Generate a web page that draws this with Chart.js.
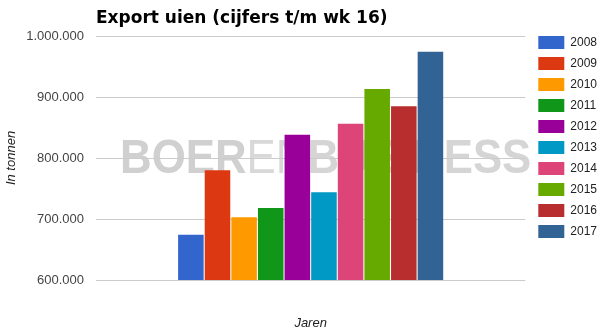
<!DOCTYPE html>
<html>
<head>
<meta charset="utf-8">
<script src="https://cdn.jsdelivr.net/npm/chart.js@4.4.1/dist/chart.umd.min.js"></script>
<style>
  html, body { margin: 0; padding: 0; background: #fff; }
  #wrap { width: 610px; height: 334px; }
</style>
</head>
<body>
<div id="wrap"><canvas id="exportChart" width="610" height="334"></canvas></div>
<script>
// Export uien per jaar, cijfers t/m week 16
const years = ["2008", "2009", "2010", "2011", "2012", "2013", "2014", "2015", "2016", "2017"];
const exportTonnen = [674000, 780000, 703000, 718000, 838000, 744000, 856000, 913000, 885000, 974000];
const yearColors = ["#3366cc", "#dc3912", "#ff9900", "#109618", "#990099", "#0099c6", "#dd4477", "#66aa00", "#b82e2e", "#316395"];
const yTicks = [600000, 700000, 800000, 900000, 1000000];

function formatNL(v) {
  return String(v).replace(/\B(?=(\d{3})+(?!\d))/g, ".");
}

// grijze watermerk-tekst achter het raster
const watermark = {
  id: "watermark",
  beforeDraw(chart) {
    const { ctx, chartArea } = chart;
    const parts = [
      { text: "BOER", font: "bold 49px 'Liberation Sans'", color: "#d0d0d0" },
      { text: "EN", font: "normal 49px 'Liberation Sans'", color: "#d8d8d8" },
      { text: "BUSINESS", font: "bold 49px 'Liberation Sans'", color: "#d5d5d5" },
    ];
    ctx.save();
    let total = 0;
    parts.forEach((p) => {
      ctx.font = p.font;
      p.w = ctx.measureText(p.text).width;
      total += p.w;
    });
    const left = chartArea.left + 24;
    const targetW = chartArea.right + 6 - left;
    const sx = targetW / total;
    ctx.translate(left, chartArea.top + 137);
    ctx.scale(sx, 1);
    let x = 0;
    parts.forEach((p) => {
      ctx.font = p.font;
      ctx.fillStyle = p.color;
      ctx.textBaseline = "alphabetic";
      ctx.fillText(p.text, x, 0);
      x += p.w;
    });
    ctx.restore();
  },
};

document.addEventListener("DOMContentLoaded", function () {
  const ctx = document.getElementById("exportChart").getContext("2d");
  new Chart(ctx, {
    type: "bar",
    data: {
      labels: [""],
      datasets: years.map((y, i) => ({
        label: y,
        data: [exportTonnen[i]],
        backgroundColor: yearColors[i],
        borderWidth: 0,
        barPercentage: 0.96,
        categoryPercentage: 0.62,
      })),
    },
    options: {
      responsive: false,
      animation: false,
      events: [],
      layout: { padding: { left: 0, right: 3, top: 0, bottom: 0 } },
      plugins: {
        title: {
          display: true,
          text: "Export uien (cijfers t/m wk 16)",
          align: "start",
          fullSize: false,
          color: "#000",
          font: { family: "'DejaVu Sans'", size: 17, weight: "bold" },
          padding: { top: 8, bottom: 7.6 },
        },
        legend: {
          position: "right",
          align: "start",
          title: {
            display: true,
            text: " ",
            font: { size: 10 },
            padding: { top: 16, bottom: 0 },
          },
          labels: {
            boxWidth: 26,
            boxHeight: 13,
            padding: 8,
            color: "#222",
            font: { family: "'Liberation Sans'", size: 12 },
          },
        },
        tooltip: { enabled: false },
      },
      scales: {
        x: {
          grid: { display: false },
          border: { display: false },
          ticks: { display: false },
          title: {
            display: true,
            text: "Jaren",
            color: "#222",
            font: { family: "'Liberation Sans'", size: 13, style: "italic" },
            padding: { top: 0, bottom: 3 },
          },
          afterFit(scale) {
            scale.height = 54;
          },
        },
        y: {
          min: 600000,
          max: 1000000,
          grid: { color: "#cccccc", drawTicks: false },
          border: { display: false },
          afterBuildTicks(scale) {
            scale.ticks = yTicks.map((v) => ({ value: v }));
          },
          ticks: {
            padding: 12,
            color: "#444",
            font: { family: "'Liberation Sans'", size: 13 },
            callback: function (value) {
              return formatNL(value);
            },
          },
          title: {
            display: true,
            text: "In tonnen",
            color: "#222",
            font: { family: "'Liberation Sans'", size: 13, style: "italic" },
            padding: { top: 4, bottom: 0 },
          },
          afterFit(scale) {
            scale.width = 96;
          },
        },
        gap: {
          type: "linear",
          position: "right",
          display: true,
          grid: { display: false },
          border: { display: false },
          ticks: { display: false },
          afterFit(scale) {
            scale.width = 5;
          },
        },
      },
    },
    plugins: [watermark],
  });
});
</script>
</body>
</html>
